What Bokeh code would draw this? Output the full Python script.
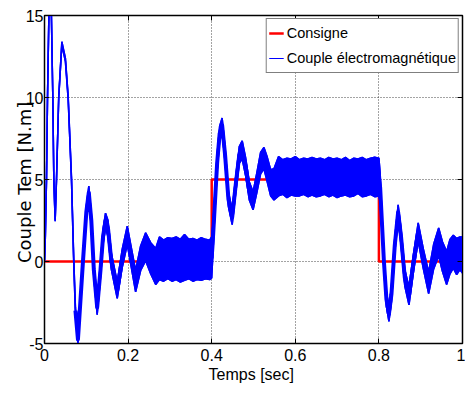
import numpy as np
from bokeh.plotting import figure
from bokeh.models import (FixedTicker, LinearAxis, Legend, LegendItem, Range1d,
                          ColumnDataSource, CustomJSTickFormatter)
from bokeh.embed import file_html
from bokeh.resources import INLINE

# ---------------- data ----------------
# reference torque (Consigne), step changes
consigne_time = [0.0, 0.4, 0.8, 1.0]
consigne_value = [0.0, 5.0, 0.0, 0.0]

# electromagnetic torque: mean trace and half-width of its high-frequency ripple
torque_time = [
    0.0, 0.002, 0.0048, 0.0072, 0.0105, 0.0135, 0.0165, 0.0199, 0.0223, 0.0255,
    0.0287, 0.034, 0.0415, 0.050, 0.0566, 0.0646, 0.070, 0.074, 0.080,
    0.092, 0.100, 0.106, 0.112, 0.118, 0.126, 0.134, 0.140, 0.146, 0.152,
    0.160, 0.174, 0.186, 0.198, 0.208, 0.218, 0.230, 0.242, 0.254, 0.266,
    0.275, 0.285, 0.295, 0.305, 0.315, 0.325, 0.335, 0.345, 0.355, 0.365,
    0.375, 0.385, 0.395, 0.400,
    0.402, 0.406, 0.413, 0.419, 0.425, 0.432, 0.440, 0.449, 0.458, 0.466,
    0.473, 0.481, 0.490, 0.499, 0.508, 0.517, 0.525, 0.533, 0.541, 0.549,
    0.56, 0.57, 0.58, 0.59, 0.60, 0.61, 0.62, 0.63, 0.64, 0.65, 0.66, 0.67,
    0.68, 0.69, 0.70, 0.71, 0.72, 0.73, 0.74, 0.75, 0.76, 0.77, 0.78, 0.79, 0.80,
    0.803, 0.807, 0.812, 0.818, 0.824, 0.830, 0.838, 0.846, 0.853, 0.862,
    0.872, 0.882, 0.894, 0.906, 0.919, 0.931, 0.943, 0.952, 0.962, 0.970,
    0.978, 0.986, 0.994, 1.000,
]
torque_mean = [
    0.0, 1.5, 5.0, 10.0, 15.0, 16.8, 15.0, 10.0, 5.0, 2.5,
    5.0, 10.0, 13.3, 12.3, 10.0, 5.0, 0.0, -3.0, -4.75,
    0.0, 3.0, 4.2, 2.5, -0.5, -2.8, -0.5, 1.5, 2.5, 2.0,
    0.0, -1.75, 0.2, 1.6, 0.2, -1.2, 0.2, 0.9, 0.2, -0.3,
    0.2, 0.05, 0.2, 0.1, 0.2, 0.05, 0.25, 0.15, 0.1, 0.1,
    0.15, 0.15, 0.1, 0.25,
    1.0, 2.8, 6.0, 7.8, 8.3, 6.5, 3.8, 2.7, 4.8, 6.5,
    6.8, 5.8, 4.3, 3.7, 4.8, 6.0, 6.3, 5.6, 4.8, 4.7,
    5.2, 5.15, 5.1, 5.15, 5.2, 5.1, 5.2, 5.1, 5.2, 5.1, 5.15, 5.15,
    5.15, 5.15, 5.1, 5.1, 5.2, 5.05, 5.15, 5.2, 5.15, 5.1, 5.2, 5.15, 5.15,
    4.5, 2.5, 0.0, -2.3, -3.2, -2.0, 1.0, 3.0, 1.5, -1.0,
    -2.1, -0.2, 1.8, 0.2, -1.3, 0.3, 1.2, 0.3, -0.4, 0.3,
    0.6, 0.3, 0.5, 0.4,
]
torque_ripple = [
    0.05, 0.05, 0.05, 0.05, 0.05, 0.05, 0.05, 0.05, 0.05, 0.05,
    0.05, 0.05, 0.1, 0.1, 0.1, 0.1, 0.15, 0.2, 0.25,
    0.3, 0.35, 0.4, 0.4, 0.45, 0.45, 0.45, 0.45, 0.45, 0.5,
    0.5, 0.5, 0.55, 0.55, 0.6, 0.65, 0.75, 0.85, 0.95, 1.1,
    1.3, 1.25, 1.25, 1.3, 1.3, 1.3, 1.4, 1.2, 1.3, 1.2,
    1.3, 1.2, 1.2, 1.25,
    1.0, 0.6, 0.5, 0.45, 0.45, 0.45, 0.45, 0.45, 0.5, 0.5,
    0.55, 0.55, 0.55, 0.55, 0.6, 0.65, 0.65, 0.75, 0.8, 0.95,
    1.2, 1.05, 1.2, 1.1, 1.2, 1.1, 1.1, 1.15, 1.15, 1.15, 1.15, 1.05,
    1.2, 1.1, 1.2, 1.1, 1.15, 1.1, 1.15, 1.05, 1.2, 1.1, 1.1, 1.2, 1.15,
    0.9, 0.5, 0.45, 0.45, 0.45, 0.45, 0.45, 0.45, 0.5, 0.5,
    0.55, 0.55, 0.55, 0.6, 0.65, 0.75, 0.85, 0.9, 1.0, 1.05,
    1.0, 1.1, 1.0, 1.1,
]

x_ticks = [0.0, 0.2, 0.4, 0.6, 0.8, 1.0]
x_tick_labels = ["0", "0.2", "0.4", "0.6", "0.8", "1"]
y_ticks = [-5, 0, 5, 10, 15]
y_tick_labels = ["-5", "0", "5", "10", "15"]

x_title = "Temps  [sec]"
y_title = "Couple Tem  [N.m]"
legend_labels = ["Consigne", "Couple électromagnétique"]

# ---------------- figure ----------------
FONT = "Liberation Sans"
YFONT = "DejaVu Sans"

p = figure(width=465, height=394, output_backend="svg", toolbar_location=None,
           x_range=Range1d(0, 1), y_range=Range1d(-5, 15),
           min_border_left=44, min_border_right=3, min_border_top=15,
           min_border_bottom=51)
p.background_fill_color = "white"
p.border_fill_color = "white"
p.outline_line_color = "black"
p.outline_line_width = 1.5

t = np.array(torque_time)
m = np.array(torque_mean)
r = np.array(torque_ripple)
hi = m + r
lo = m - r
band = ColumnDataSource(dict(x=np.concatenate([t, t[::-1]]),
                             y=np.concatenate([hi, lo[::-1]])))
edges = ColumnDataSource(dict(t=t, lo=lo, hi=hi))
# noisy part of the trace (after the first start-up swing) is drawn thicker
noisy = t >= 0.074
mean_noisy = ColumnDataSource(dict(t=t[noisy], m=m[noisy]))

red = p.step(x=consigne_time, y=consigne_value, mode="after",
             line_color="#ff0000", line_width=2.5)
p.patch(x="x", y="y", source=band, fill_color="#0000ff", line_color="#0000ff",
        line_width=1.5)
p.line(x="t", y="hi", source=edges, line_color="#0000ff", line_width=1.5)
p.line(x="t", y="lo", source=edges, line_color="#0000ff", line_width=1.5)
p.line(x="t", y="m", source=mean_noisy, line_color="#0000ff", line_width=4,
       line_join="round")
blue_key = p.line(x=[np.nan], y=[np.nan], line_color="#0000ff", line_width=1)

# grid
for g in (p.xgrid[0], p.ygrid[0]):
    g.grid_line_color = "#333333"
    g.grid_line_dash = "1 2"
    g.grid_line_width = 1
    g.grid_line_alpha = 0.9
p.xgrid[0].ticker = FixedTicker(ticks=x_ticks)
p.ygrid[0].ticker = FixedTicker(ticks=y_ticks)

def style_axis(ax, ticks):
    ax.ticker = FixedTicker(ticks=ticks)
    ax.major_tick_in = 5
    ax.major_tick_out = 0
    ax.minor_tick_in = 0
    ax.minor_tick_out = 0
    ax.major_tick_line_color = "black"
    ax.axis_line_color = "black"
    ax.major_label_text_font = FONT
    ax.major_label_text_font_size = "16px"
    ax.major_label_text_color = "black"
    ax.axis_label_text_font_style = "normal"
    ax.axis_label_text_color = "black"

xa = p.xaxis[0]
style_axis(xa, x_ticks)
xa.major_label_overrides = dict(zip(x_ticks, x_tick_labels))
xa.major_label_standoff = 5
xa.axis_label = x_title
xa.axis_label_text_font = FONT
xa.axis_label_text_font_size = "16px"
xa.axis_label_standoff = 2

ya = p.yaxis[0]
style_axis(ya, y_ticks)
ya.major_label_overrides = dict(zip(y_ticks, y_tick_labels))
ya.major_label_standoff = 1
ya.axis_label = y_title
ya.axis_label_text_font = YFONT
ya.axis_label_text_font_size = "18px"
ya.axis_label_standoff = -12

for side, ticks in (("above", x_ticks), ("right", y_ticks)):
    ax = LinearAxis()
    style_axis(ax, ticks)
    ax.formatter = CustomJSTickFormatter(code="return ''")
    ax.major_label_text_font_size = "1px"
    ax.major_label_standoff = 0
    p.add_layout(ax, side)

legend = Legend(items=[LegendItem(label=legend_labels[0], renderers=[red]),
                       LegendItem(label=legend_labels[1], renderers=[blue_key])],
                location="top_right")
legend.margin = 3
legend.padding = 2
legend.spacing = 1
legend.label_standoff = 3
legend.glyph_width = 15
legend.glyph_height = 24
legend.label_height = 24
legend.label_text_font = FONT
legend.label_text_font_size = "14.5px"
legend.label_text_color = "black"
legend.border_line_color = "black"
legend.border_line_width = 1.5
legend.background_fill_color = "white"
legend.background_fill_alpha = 1.0
p.add_layout(legend)

open("out.html", "w").write(file_html(p, INLINE))
